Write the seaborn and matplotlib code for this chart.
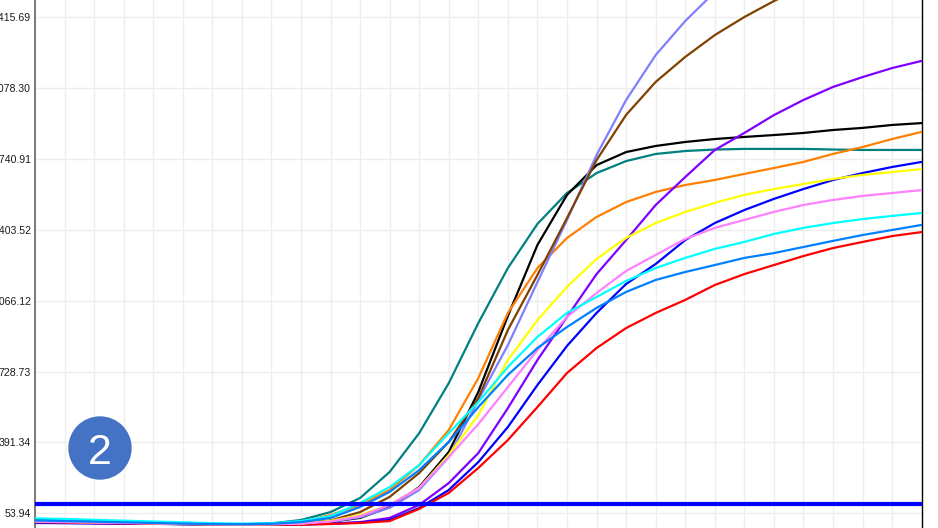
import numpy as np
import pandas as pd
import matplotlib
matplotlib.use("Agg")
import matplotlib.pyplot as plt
import seaborn as sns
from matplotlib.patches import Ellipse

# amplification curves, one value per cycle (cycles 1..31)
cycles = list(range(1, 32))

teal = [22, 19, 16, 12, 8, 5, 3, 2, 6, 22, 60, 127, 251, 436, 674, 960, 1222, 1432, 1579, 1674,
        1731, 1765, 1779, 1786, 1789, 1789, 1789, 1786, 1784, 1784, 1784]
black = [12, 10, 8, 6, 4, 2, 1, 0, 0, 3, 14, 32, 84, 179, 346, 632, 994, 1332, 1570, 1712,
         1774, 1803, 1822, 1836, 1846, 1855, 1865, 1879, 1889, 1903, 1912]
orange = [18, 15, 12, 9, 6, 4, 2, 1, 4, 13, 46, 94, 165, 284, 451, 698, 1008, 1222, 1365, 1465,
          1536, 1584, 1617, 1641, 1670, 1698, 1727, 1765, 1798, 1836, 1870]
slate = [14, 12, 10, 8, 6, 4, 2, 1, 2, 6, 14, 35, 80, 165, 322, 594, 855, 1155, 1451, 1760,
         2022, 2236, 2398, 2536, 2640, 2720, 2780, 2830, 2870, 2900, 2925]
brown = [15, 13, 10, 8, 6, 4, 2, 1, 2, 7, 20, 60, 132, 246, 394, 603, 927, 1189, 1460, 1736,
         1951, 2108, 2227, 2331, 2417, 2493, 2560, 2620, 2670, 2710, 2750]
purple = [10, 8, 6, 5, 4, 3, 2, 1, 0, 1, 5, 12, 32, 94, 198, 341, 555, 784, 989, 1193,
          1355, 1522, 1655, 1784, 1865, 1950, 2022, 2084, 2131, 2174, 2208]
blue = [8, 7, 6, 5, 4, 3, 2, 1, 0, 1, 4, 10, 22, 79, 165, 298, 465, 665, 851, 1008,
        1146, 1241, 1355, 1436, 1498, 1551, 1598, 1641, 1674, 1703, 1727]
red = [12, 10, 8, 6, 5, 3, 2, 1, 0, 0, 3, 8, 17, 75, 151, 270, 403, 560, 722, 841,
       936, 1008, 1070, 1141, 1193, 1236, 1279, 1317, 1346, 1374, 1393]
yellow = [16, 13, 11, 9, 6, 4, 2, 1, 2, 5, 18, 45, 95, 175, 332, 522, 784, 974, 1132, 1265,
          1365, 1436, 1489, 1532, 1570, 1598, 1622, 1646, 1665, 1679, 1693]
pink = [14, 12, 10, 8, 6, 4, 2, 1, 2, 5, 15, 40, 94, 175, 322, 479, 655, 832, 989, 1103,
        1208, 1284, 1360, 1413, 1451, 1489, 1522, 1546, 1565, 1579, 1593]
cyan = [30, 27, 23, 19, 15, 11, 7, 5, 7, 17, 41, 103, 179, 284, 436, 584, 751, 894, 1008, 1084,
        1160, 1222, 1270, 1313, 1346, 1384, 1413, 1436, 1455, 1470, 1484]
dodger = [20, 17, 14, 11, 8, 5, 3, 2, 4, 12, 32, 84, 156, 260, 394, 560, 713, 841, 941, 1032,
          1108, 1165, 1203, 1236, 1270, 1293, 1322, 1351, 1379, 1403, 1427]

threshold = 97
ytick_vals = [53.94, 391.34, 728.73, 1066.12, 1403.52, 1740.91, 2078.30, 2415.69]

wells = {
    "teal": (teal, "#008080"),
    "black": (black, "#000000"),
    "orange": (orange, "#ff8000"),
    "slate": (slate, "#8080ff"),
    "brown": (brown, "#804000"),
    "purple": (purple, "#8000ff"),
    "blue": (blue, "#0000ff"),
    "red": (red, "#ff0000"),
    "yellow": (yellow, "#ffff00"),
    "pink": (pink, "#ff80ff"),
    "cyan": (cyan, "#00ffff"),
    "dodger": (dodger, "#0080ff"),
}

rows = []
for name, (vals, _) in wells.items():
    for c, v in zip(cycles, vals):
        rows.append({"cycle": c, "rfu": v, "well": name})
df = pd.DataFrame(rows)
palette = {name: col for name, (_, col) in wells.items()}

sns.set_style("white")
plt.rcParams['font.family'] = ['Liberation Sans', 'DejaVu Sans']

fig = plt.figure(figsize=(9.38, 5.28), dpi=100)
ax = fig.add_axes([35 / 938, 0, 886.7 / 938, 1])

sns.lineplot(data=df, x="cycle", y="rfu", hue="well", palette=palette,
             legend=False, lw=1.6, ax=ax, zorder=3)
ax.axhline(threshold, color="#0000ff", lw=3, zorder=5)

ax.set_xlim(1, 31)
ax.set_ylim(-16, 2498)
ax.set_xticks(cycles)
ax.set_xticklabels([])
ax.set_yticks(ytick_vals)
ax.set_yticklabels([f"{v:.2f}" for v in ytick_vals])
ax.tick_params(axis="y", length=0, pad=3, labelsize=7.6, labelcolor="#1a1a1a")
ax.tick_params(axis="x", length=0)
ax.set_xlabel("")
ax.set_ylabel("")
ax.grid(True, color="#ededed", lw=1, zorder=0)
ax.set_axisbelow(True)

for s in ["top", "bottom"]:
    ax.spines[s].set_visible(False)
ax.spines["left"].set_color("#707070")
ax.spines["left"].set_linewidth(1.3)
ax.spines["right"].set_color("#000000")
ax.spines["right"].set_linewidth(1.0)

# numbered badge
cx, cy = 100 / 938, 1 - 448 / 528
badge = Ellipse((cx, cy), 62 / 938, 62 / 528, transform=fig.transFigure,
                color="#4472c4", zorder=10)
fig.patches.append(badge)
fig.text(cx, cy, "2", color="white", fontsize=31,
         ha="center", va="center_baseline", zorder=11)

fig.savefig("out.png", dpi=100)
